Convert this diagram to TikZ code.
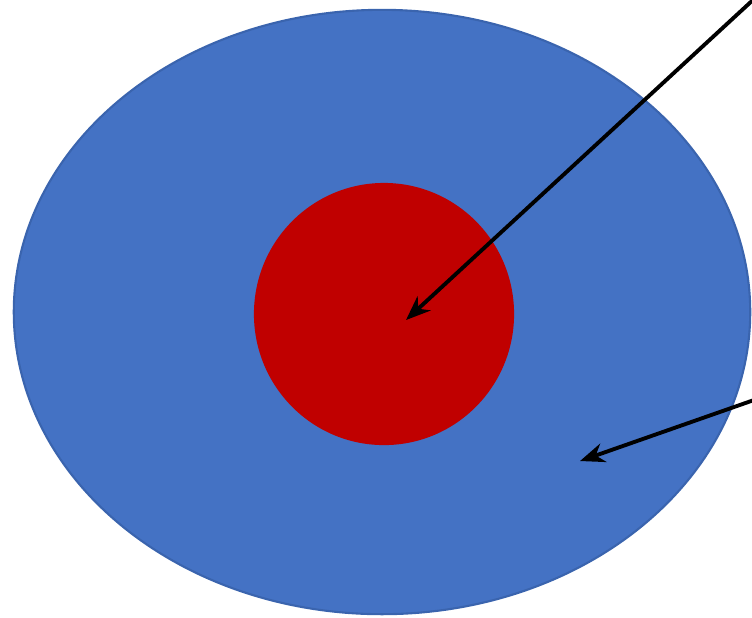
\documentclass[tikz,border=0pt]{standalone}
\usepackage{tikz}
\usetikzlibrary{shapes.geometric, arrows.meta}

\definecolor{outerblue}{HTML}{4472C4}
\definecolor{outeredge}{HTML}{3A64AE}
\definecolor{innerred}{HTML}{C00000}

\begin{document}
\begin{tikzpicture}[x=0.01cm,y=-0.01cm]
    % Two nested regions with pointers coming in from the right edge.

    \tikzset{
      region/.style={ellipse, inner sep=0pt},
      pointer/.style={-{Stealth[length=7pt,width=5.5pt]}, line width=1.1pt, black}
    }

    \useasboundingbox (0,0) rectangle (752,617);

    % --- outer region
    \node[region, fill=outerblue, draw=outeredge, line width=0.6pt,
          minimum width=7.36cm, minimum height=6.04cm] (outer) at (382,312) {};

    % --- inner region
    \node[region, fill=innerred, minimum width=2.6cm, minimum height=2.62cm] (inner) at (384,314) {};

    % --- pointer ends
    \coordinate (topstart) at (754,-1);
    \coordinate (innertip) at (406,320);
    \coordinate (sidestart) at (754,400);
    \coordinate (outertip) at (580,461);

    \draw[pointer] (topstart) -- (innertip);
    \draw[pointer] (sidestart) -- (outertip);
\end{tikzpicture}
\end{document}
